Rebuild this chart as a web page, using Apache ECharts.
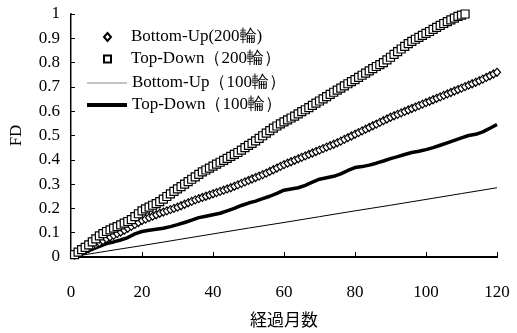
<!DOCTYPE html>
<html><head><meta charset="utf-8">
<script src="https://cdn.jsdelivr.net/npm/echarts@6/dist/echarts.min.js"></script>
<style>html,body{margin:0;padding:0;background:#fff}#c{width:517px;height:333px}</style>
</head><body><div id="c"></div>
<script>
var seriesNames = ['Bottom-Up(200輪)', 'Top-Down（200輪）', 'Bottom-Up（100輪）', 'Top-Down（100輪）'];
var xTicks = [0, 20, 40, 60, 80, 100, 120];
var yTicks = [0, 0.1, 0.2, 0.3, 0.4, 0.5, 0.6, 0.7, 0.8, 0.9, 1];

// Bottom-Up(200) : months 1..120
var bu200 = [
0.008,0.015,0.021,0.028,0.035, 0.043,0.051,0.059,0.067,0.075,
0.082,0.089,0.096,0.103,0.110, 0.118,0.126,0.134,0.142,0.150,
0.156,0.162,0.168,0.174,0.180, 0.185,0.190,0.195,0.200,0.205,
0.211,0.217,0.223,0.229,0.235, 0.240,0.245,0.250,0.255,0.260,
0.265,0.270,0.275,0.280,0.285, 0.291,0.297,0.303,0.309,0.315,
0.321,0.327,0.333,0.339,0.345, 0.352,0.359,0.366,0.373,0.380,
0.386,0.392,0.398,0.404,0.410, 0.416,0.422,0.428,0.434,0.440,
0.446,0.452,0.458,0.464,0.470, 0.477,0.484,0.491,0.498,0.505,
0.512,0.519,0.526,0.533,0.540, 0.547,0.554,0.561,0.568,0.575,
0.581,0.587,0.593,0.599,0.605, 0.611,0.617,0.623,0.629,0.635,
0.641,0.647,0.653,0.659,0.665, 0.671,0.677,0.683,0.689,0.695,
0.701,0.707,0.713,0.719,0.725, 0.732,0.739,0.746,0.753,0.760];

// Top-Down(200) : months 1..111
var td200 = [
0.010,0.020,0.030,0.040,0.050, 0.062,0.075,0.087,0.096,0.105,
0.112,0.119,0.125,0.132,0.139, 0.146,0.154,0.166,0.178,0.190,
0.198,0.205,0.213,0.220,0.228, 0.238,0.249,0.260,0.270,0.280,
0.290,0.300,0.310,0.320,0.330, 0.340,0.350,0.358,0.366,0.374,
0.382,0.390,0.398,0.406,0.414, 0.422,0.430,0.440,0.450,0.459,
0.468,0.478,0.488,0.499,0.510, 0.520,0.530,0.539,0.548,0.556,
0.564,0.572,0.580,0.589,0.598, 0.606,0.615,0.624,0.633,0.642,
0.651,0.660,0.669,0.678,0.687, 0.695,0.704,0.713,0.722,0.730,
0.739,0.748,0.757,0.766,0.775, 0.784,0.792,0.800,0.811,0.822,
0.834,0.845,0.856,0.867,0.878, 0.887,0.896,0.904,0.912,0.920,
0.928,0.937,0.945,0.953,0.961, 0.969,0.976,0.983,0.990,0.995,
1.000];

// Bottom-Up(100) : months 0,10,...,120
var bu100Months = [0,10,20,30,40,50,60,70,80,90,100,110,120];
var bu100 = [0,0.024,0.047,0.071,0.095,0.119,0.142,0.166,0.190,0.213,0.237,0.261,0.285];

// Top-Down(100) : months 0,2,...,120
var td100 = [
0,0.010,0.020,0.032,0.044,0.055,0.062,0.070,0.080,0.095,
0.105,0.110,0.114,0.118,0.125,0.133,0.142,0.152,0.162,0.168,
0.174,0.180,0.190,0.200,0.212,0.222,0.230,0.240,0.250,0.262,
0.275,0.280,0.285,0.295,0.308,0.320,0.326,0.332,0.342,0.356,
0.368,0.372,0.378,0.386,0.395,0.405,0.413,0.422,0.430,0.435,
0.442,0.450,0.460,0.470,0.480,0.490,0.500,0.505,0.515,0.530,
0.545];

function pairs(startMonth, step, vals){ return vals.map(function(v,i){return [startMonth+i*step, v];}); }

var serif = 'Liberation Serif';
var legText = {fontFamily:serif, fontSize:17, color:'#000', lineHeight:17};
var legTextPad = {fontFamily:serif, fontSize:17, color:'#000', lineHeight:17, padding:[0,0,0,15]};
var chart = echarts.init(document.getElementById('c'), null, {renderer:'canvas'});
chart.setOption({
  animation:false,
  backgroundColor:'#fff',
  grid:{left:70, right:20, top:14, bottom:69.5, show:false},
  legend:[{
    data:[{name:seriesNames[0], icon:'diamond'}],
    orient:'vertical', left:103, top:28.5, padding:0, itemWidth:7, itemHeight:8,
    textStyle:legTextPad
  },{
    data:[{name:seriesNames[1], icon:'rect'}],
    orient:'vertical', left:103, top:50.5, padding:0, itemWidth:7, itemHeight:7,
    textStyle:legTextPad
  },{
    data:[{name:seriesNames[2], icon:'rect', itemStyle:{color:'#888'}}],
    orient:'vertical', left:87, top:74.5, padding:0, itemWidth:40, itemHeight:1,
    textStyle:legText
  },{
    data:[{name:seriesNames[3], icon:'rect', itemStyle:{color:'#000'}}],
    orient:'vertical', left:87, top:96.5, padding:0, itemWidth:40, itemHeight:4,
    textStyle:legText
  }],
  xAxis:[{
    type:'value', min:0, max:120, interval:20,
    axisLine:{lineStyle:{color:'#000', width:2}},
    axisTick:{inside:true, length:5, lineStyle:{color:'#000'}},
    axisLabel:{fontFamily:serif, fontSize:17, color:'#000', margin:27},
    splitLine:{show:false},
    name:'経過月数', nameLocation:'middle', nameGap:54,
    nameTextStyle:{fontFamily:'Noto Sans CJK JP', fontSize:17, color:'#000'}
  },{
    type:'value', min:0, max:120, position:'top',
    axisLine:{show:true, lineStyle:{color:'#000', width:1}},
    axisTick:{show:false}, axisLabel:{show:false}, splitLine:{show:false}
  }],
  yAxis:[{
    type:'value', min:0, max:1, interval:0.1,
    axisLine:{show:true, lineStyle:{color:'#000', width:2}},
    axisTick:{show:true, inside:true, length:4, lineStyle:{color:'#000'}},
    axisLabel:{fontFamily:serif, fontSize:17, color:'#000', margin:11},
    splitLine:{show:false},
    name:'FD', nameLocation:'middle', nameGap:46, nameRotate:90,
    nameTextStyle:{fontFamily:serif, fontSize:17, color:'#000'}
  },{
    type:'value', min:0, max:1, position:'right',
    axisLine:{show:true, lineStyle:{color:'#888', width:1}},
    axisTick:{show:false}, axisLabel:{show:false}, splitLine:{show:false}
  }],
  series:[{
    name:seriesNames[2], type:'line', showSymbol:false, symbol:'none',
    data:bu100Months.map(function(m,i){return [m,bu100[i]];}),
    lineStyle:{color:'#000', width:1}, itemStyle:{color:'#000'}, z:2
  },{
    name:seriesNames[3], type:'line', showSymbol:false, symbol:'none',
    data:pairs(0,2,td100),
    lineStyle:{color:'#000', width:3.5}, itemStyle:{color:'#000'}, z:2
  },{
    name:seriesNames[0], type:'scatter', symbol:'diamond', symbolSize:[7,8],
    data:pairs(1,1,bu200),
    itemStyle:{color:'#fff', borderColor:'#000', borderWidth:1.2, opacity:1}, z:3
  },{
    name:seriesNames[1], type:'scatter', symbol:'rect', symbolSize:8,
    data:pairs(1,1,td200),
    itemStyle:{color:'#fff', borderColor:'#000', borderWidth:1.2, opacity:1}, z:4
  }]
});
</script></body></html>
